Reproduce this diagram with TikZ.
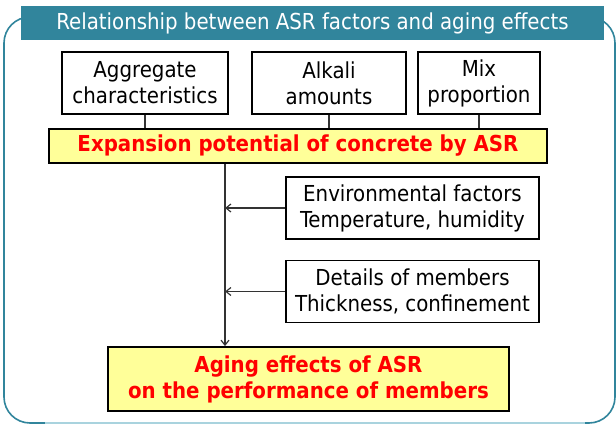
\documentclass[tikz,border=0pt]{standalone}
\usepackage{fontspec}
\setmainfont{DejaVu Sans Condensed}
\usetikzlibrary{arrows.meta,calc}

\definecolor{asrteal}{HTML}{31859C}
\definecolor{asrlight}{HTML}{A9D3DE}
\definecolor{asryellow}{HTML}{FFFF99}
\definecolor{asrred}{HTML}{FF0000}

\begin{document}
\begin{tikzpicture}[
    x=1pt, y=-1pt,
    every node/.style={font=\fontsize{22}{26}\selectfont, align=center, inner sep=0pt},
    factor/.style={rectangle, draw, line width=1.8pt, fill=white, minimum width=#1, minimum height=62},
    result/.style={rectangle, draw, line width=1.8pt, fill=asryellow, text=asrred, font=\fontsize{22}{26}\selectfont\bfseries},
    link/.style={line width=1.2pt, draw=black!80},
    arrow/.style={-{Straight Barb[length=5pt, width=8pt]}, line width=1.2pt, draw=black!80}
]
\useasboundingbox (0,0) rectangle (616,425);

% Frame
\draw[asrteal, line width=1.6pt, rounded corners=26pt] (4,17) rectangle (615,423);
\draw[asrlight, line width=1.6pt] (45,423) -- (585,423);

% Title
\node[fill=asrteal, text=white, minimum width=583, minimum height=34, font=\fontsize{22}{26}\selectfont] (title) at (312.5,23.5) {Relationship between ASR factors and aging effects};

% ASR factors
\node[factor=166] (agg) at (145,83) {Aggregate\\characteristics};
\node[factor=154] (alkali) at (329,83) {Alkali\\amounts};
\node[factor=122] (mix) at (479,83) {Mix\\proportion};

% Expansion potential
\node[result, minimum width=498, minimum height=34] (expansion) at (298,146) {Expansion potential of concrete by ASR};

% Other factors
\node[factor=253] (env) at (412.5,208) {Environmental factors\\Temperature, humidity};
\node[factor=253] (details) at (412.5,291.5) {Details of members\\Thickness, confinement};

% Aging effects
\node[result, minimum width=401, minimum height=64] (aging) at (308.5,379) {Aging effects of ASR\\on the performance of members};

\coordinate (spine) at (225,0);

% Factors to expansion potential
\draw[link] (agg.south) -- (agg.south |- expansion.north);
\draw[link] (alkali.south) -- (alkali.south |- expansion.north);
\draw[link] (mix.south) -- (mix.south |- expansion.north);

% Expansion potential to aging effects
\draw[arrow] (expansion.south -| spine) -- (aging.north -| spine);
\draw[arrow] (env.west) -- (env.west -| spine);
\draw[arrow] (details.west) -- (details.west -| spine);

\end{tikzpicture}
\end{document}
